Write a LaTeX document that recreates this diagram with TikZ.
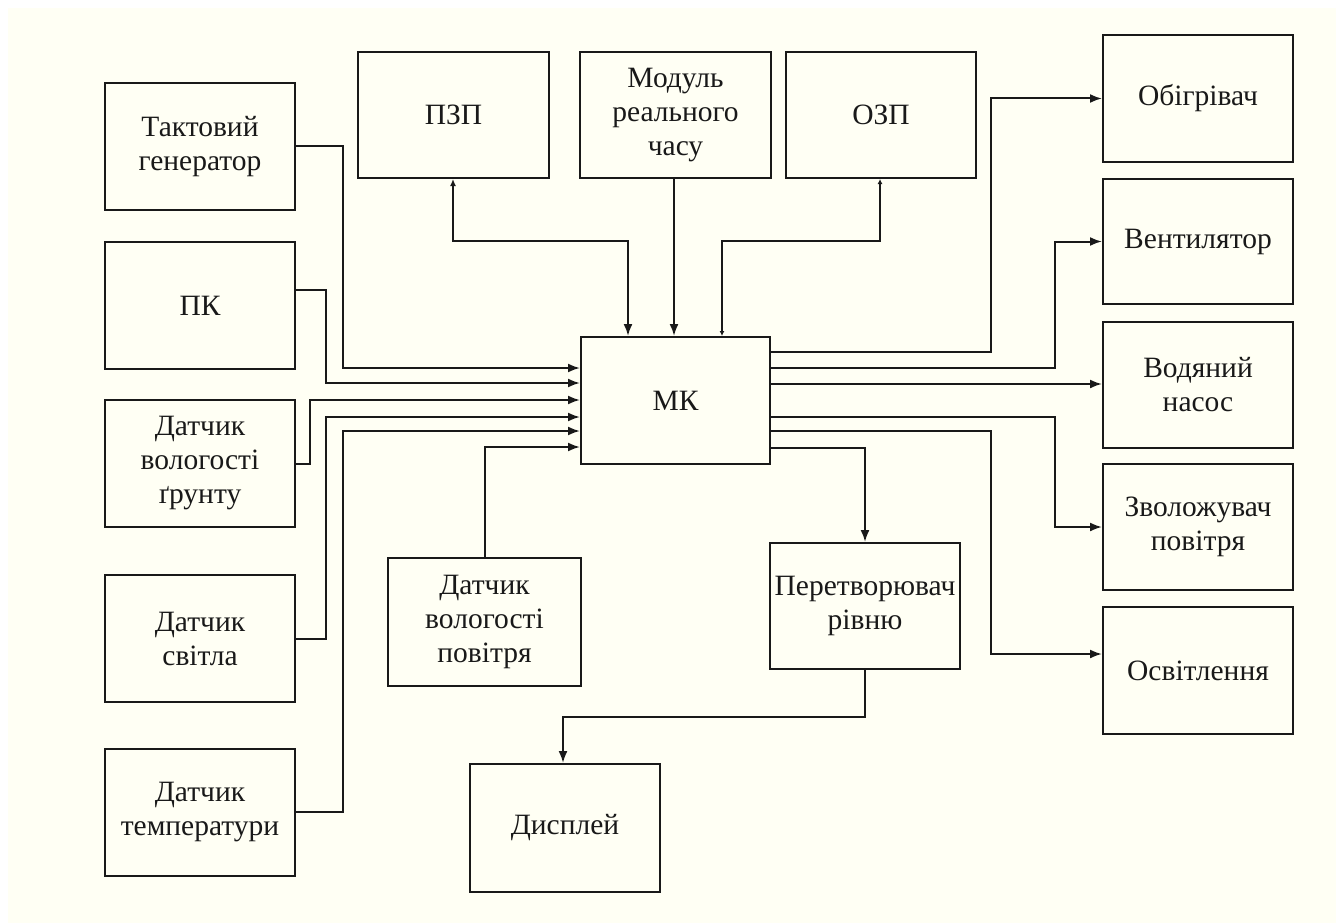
\documentclass[tikz,border=0pt]{standalone}
\usepackage{fontspec}
\setmainfont{Liberation Serif}
\usetikzlibrary{arrows.meta}
\definecolor{cream}{RGB}{255,255,244}
\definecolor{ink}{RGB}{25,25,25}
\begin{document}
\begin{tikzpicture}[x=1pt,y=-1pt,
  blk/.style={draw=ink,line width=2pt,minimum width=190pt,minimum height=127pt,inner sep=2pt,align=center,
    font=\fontsize{29.5}{34}\selectfont,text=ink},
  wire/.style={draw=ink,line width=2pt},
  arr/.style={wire,-{Latex[length=12pt,width=9pt]}},
  arrpzp/.style={wire,{Latex[length=7pt,width=6pt]}-{Latex[length=12pt,width=9pt]}},
  arrozp/.style={wire,{Latex[length=5pt,width=5pt]}-{Latex[length=5pt,width=5pt]}}]
\useasboundingbox (0,0) rectangle (1336,923);
\fill[white] (0,0) rectangle (1336,923);
\fill[cream] (8,8) rectangle (1336,923);

% left column
\node[blk] (tg)  at (200,146.5) {Тактовий\\генератор};
\node[blk] (pk)  at (200,305.5) {ПК};
\node[blk] (dvg) at (200,463.5) {Датчик\\вологості\\ґрунту};
\node[blk] (ds)  at (200,638.5) {Датчик\\світла};
\node[blk] (dt)  at (200,812)   {Датчик\\температури};
% top row
\node[blk,minimum width=191pt,minimum height=126pt] (pzp) at (453.5,115) {ПЗП};
\node[blk,minimum width=191pt,minimum height=126pt] (mod) at (675.5,115) {Модуль\\реального\\часу};
\node[blk,minimum height=126pt] (ozp) at (881,115) {ОЗП};
% centre
\node[blk,minimum width=189pt] (mk) at (675.5,400.5) {МК};
\node[blk,minimum width=193pt,minimum height=128pt] (dvp) at (484.5,622) {Датчик\\вологості\\повітря};
\node[blk,minimum height=126pt] (pr) at (865,606) {Перетворювач\\рівню};
\node[blk,minimum height=128pt] (disp) at (565,828) {Дисплей};
% right column
\node[blk] (obig) at (1198,98.5)  {Обігрівач};
\node[blk,minimum height=125pt] (vent) at (1198,241.5) {Вентилятор};
\node[blk,minimum height=126pt] (vod)  at (1198,385)   {Водяний\\насос};
\node[blk,minimum height=126pt] (zvol) at (1198,527)   {Зволожувач\\повітря};
\node[blk] (osv)  at (1198,670.5) {Освітлення};

% inputs to MK
\draw[arr] (tg.east) -- (343,146.5) |- (mk.west |- 0,368);
\draw[arr] (pk.east |- 0,290) -- (326,290) |- (mk.west |- 0,383);
\draw[arr] (dvg.east) -- (310,463.5) |- (mk.west |- 0,400);
\draw[arr] (ds.east) -- (326,638.5) |- (mk.west |- 0,417);
\draw[arr] (dt.east) -- (343,812) |- (mk.west |- 0,431);
\draw[arr] (dvp.north -| 485,0) |- (mk.west |- 0,447);

% top connections
\draw[arrpzp] (pzp.south -| 453,0) |- (628,241) -- (mk.north -| 628,0);
\draw[arr] (mod.south -| 674,0) -- (mk.north -| 674,0);
\draw[arrozp] (ozp.south -| 880,0) |- (722,241) -- (mk.north -| 722,0);

% outputs
\draw[arr] (mk.east |- 0,352) -- (991,352) |- (obig.west);
\draw[arr] (mk.east |- 0,368) -- (1055,368) |- (vent.west);
\draw[arr] (mk.east |- 0,384) -- (vod.west |- 0,384);
\draw[arr] (mk.east |- 0,417) -- (1055,417) |- (zvol.west);
\draw[arr] (mk.east |- 0,431) -- (991,431) |- (osv.west |- 0,654);
\draw[arr] (mk.east |- 0,448) -| (pr.north);
\draw[arr] (pr.south) -- (865,717) -| (disp.north -| 563,0);
\end{tikzpicture}
\end{document}
